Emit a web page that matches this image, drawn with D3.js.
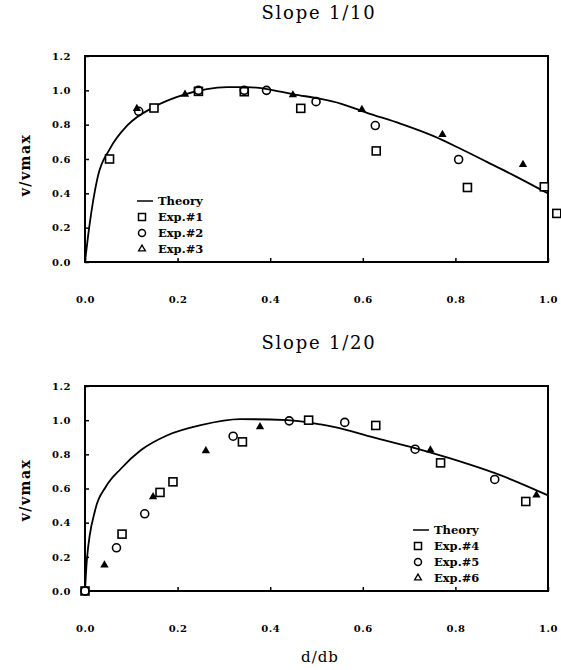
<!DOCTYPE html>
<html>
<head>
<meta charset="utf-8">
<script src="https://cdn.jsdelivr.net/npm/d3@7"></script>
<style>
  body { margin: 0; background: #fff; }
  svg { display: block; }
</style>
</head>
<body>
<svg id="chart" width="561" height="670"></svg>
<script>
// slope 1/10 series
var theory10X = [0, 0.009, 0.027, 0.054, 0.092, 0.149, 0.214, 0.307, 0.35, 0.408, 0.451, 0.509, 0.552, 0.609, 0.681, 0.753, 0.81, 0.868, 0.925, 1.0];
var theory10Y = [0, 0.2, 0.49, 0.66, 0.797, 0.903, 0.975, 1.019, 1.019, 1.0, 0.977, 0.95, 0.923, 0.869, 0.806, 0.733, 0.661, 0.583, 0.506, 0.399];
var exp1X = [0.053, 0.149, 0.245, 0.344, 0.466, 0.629, 0.826, 0.992, 1.019];
var exp1Y = [0.60, 0.897, 0.994, 0.992, 0.895, 0.647, 0.434, 0.438, 0.283];
var exp2X = [0.116, 0.245, 0.344, 0.392, 0.499, 0.627, 0.807];
var exp2Y = [0.878, 1.0, 1.0, 1.0, 0.934, 0.795, 0.597];
var exp3X = [0.112, 0.216, 0.449, 0.598, 0.772, 0.946];
var exp3Y = [0.894, 0.977, 0.973, 0.888, 0.742, 0.568];

// slope 1/20 series
var theory20X = [0, 0.004, 0.022, 0.045, 0.078, 0.121, 0.178, 0.25, 0.336, 0.437, 0.509, 0.537, 0.623, 0.703, 0.789, 0.897, 1.0];
var theory20Y = [0, 0.18, 0.474, 0.61, 0.717, 0.825, 0.912, 0.971, 1.006, 1.0, 0.975, 0.961, 0.899, 0.844, 0.776, 0.678, 0.56];
var exp4X = [0, 0.08, 0.162, 0.19, 0.34, 0.483, 0.628, 0.768, 0.952];
var exp4Y = [0, 0.333, 0.577, 0.639, 0.873, 1.0, 0.969, 0.75, 0.524];
var exp5X = [0, 0.068, 0.129, 0.32, 0.441, 0.561, 0.713, 0.885];
var exp5Y = [0, 0.253, 0.452, 0.906, 0.996, 0.987, 0.83, 0.653];
var exp6X = [0.042, 0.147, 0.261, 0.378, 0.746, 0.975];
var exp6Y = [0.152, 0.551, 0.82, 0.961, 0.825, 0.561];

var xTicks = [0, 0.2, 0.4, 0.6, 0.8, 1.0];
var yTicks = [0, 0.2, 0.4, 0.6, 0.8, 1.0, 1.2];

var svg = d3.select("#chart");
var serif = "'DejaVu Serif', serif";

function zip(xs, ys) {
    return xs.map(function(x, i) { return [x, ys[i]]; });
}

function panel(opts) {
    var x = d3.scaleLinear().domain([0, 1]).range([85, 548]);
    var y = d3.scaleLinear().domain([0, 1.2]).range([opts.bottom, opts.top]);
    var g = svg.append("g");

    // title
    g.append("text")
        .attr("x", 319).attr("y", opts.top - 37)
        .attr("text-anchor", "middle")
        .style("font-family", serif).style("font-size", "18px")
        .style("letter-spacing", "1.8px")
        .text(opts.title);

    // frame
    g.append("rect")
        .attr("x", x(0)).attr("y", y(1.2))
        .attr("width", x(1) - x(0)).attr("height", y(0) - y(1.2))
        .attr("fill", "none").attr("stroke", "#000").attr("stroke-width", 2);

    // axes with inward ticks
    var yAxis = d3.axisLeft(y).tickValues(yTicks).tickFormat(d3.format(".1f"))
        .tickSizeInner(-4).tickSizeOuter(0).tickPadding(14);
    var ya = g.append("g").attr("transform", "translate(" + x(0) + ",0)").call(yAxis);
    var xAxis = d3.axisBottom(x).tickValues(xTicks).tickFormat(d3.format(".1f"))
        .tickSizeInner(-4).tickSizeOuter(0).tickPadding(34);
    var xa = g.append("g").attr("transform", "translate(0," + y(0) + ")").call(xAxis);
    [ya, xa].forEach(function(a) {
        a.select(".domain").remove();
        a.selectAll("line").attr("stroke", "#000").attr("stroke-width", 1.5);
        a.selectAll("text")
            .style("font-family", serif).style("font-size", "10px")
            .style("font-weight", "bold").style("letter-spacing", "0.5px")
            .attr("fill", "#000");
    });

    // y label
    g.append("text")
        .attr("transform", "translate(30," + opts.labelY + ") rotate(-90)")
        .attr("text-anchor", "middle")
        .style("font-family", serif).style("font-size", "14px")
        .style("font-weight", "bold").style("letter-spacing", "1.5px")
        .text("v/vmax");

    // theory curve
    var line = d3.line()
        .x(function(d) { return x(d[0]); })
        .y(function(d) { return y(d[1]); })
        .curve(d3.curveMonotoneX);
    g.append("path")
        .datum(zip(opts.theoryX, opts.theoryY))
        .attr("d", line)
        .attr("fill", "none").attr("stroke", "#000").attr("stroke-width", 1.8);

    // markers
    g.selectAll(".sq").data(zip(opts.sqX, opts.sqY)).join("rect")
        .attr("x", function(d) { return x(d[0]) - 4; })
        .attr("y", function(d) { return y(d[1]) - 4; })
        .attr("width", 8).attr("height", 8)
        .attr("fill", "#fff").attr("stroke", "#000").attr("stroke-width", 1.6);
    g.selectAll(".ci").data(zip(opts.ciX, opts.ciY)).join("circle")
        .attr("cx", function(d) { return x(d[0]); })
        .attr("cy", function(d) { return y(d[1]); })
        .attr("r", 4)
        .attr("fill", "none").attr("stroke", "#000").attr("stroke-width", 1.6);
    var tri = d3.symbol().type(d3.symbolTriangle).size(30);
    g.selectAll(".tr").data(zip(opts.trX, opts.trY)).join("path")
        .attr("d", tri)
        .attr("transform", function(d) { return "translate(" + x(d[0]) + "," + y(d[1]) + ")"; })
        .attr("fill", "#000");

    // legend
    var lx = opts.legendX, ly = opts.legendY;
    var lg = g.append("g").style("font-family", serif).style("font-size", "11.5px")
        .style("font-weight", "bold");
    lg.append("line").attr("x1", lx - 5).attr("x2", lx + 11).attr("y1", ly).attr("y2", ly)
        .attr("stroke", "#000").attr("stroke-width", 1.5);
    lg.append("rect").attr("x", lx - 3.5).attr("y", ly + 16 - 3.5).attr("width", 7).attr("height", 7)
        .attr("fill", "none").attr("stroke", "#000").attr("stroke-width", 1.5);
    lg.append("circle").attr("cx", lx).attr("cy", ly + 32).attr("r", 3.5)
        .attr("fill", "none").attr("stroke", "#000").attr("stroke-width", 1.5);
    lg.append("path").attr("d", d3.symbol().type(d3.symbolTriangle).size(20))
        .attr("transform", "translate(" + lx + "," + (ly + 48) + ")")
        .attr("fill", "none").attr("stroke", "#000").attr("stroke-width", 1.3);
    opts.names.forEach(function(n, i) {
        lg.append("text").attr("x", lx + 16).attr("y", ly + 16 * i + 4).text(n);
    });
}

panel({
    title: "Slope 1/10", top: 56, bottom: 262, labelY: 165,
    theoryX: theory10X, theoryY: theory10Y,
    sqX: exp1X, sqY: exp1Y, ciX: exp2X, ciY: exp2Y, trX: exp3X, trY: exp3Y,
    legendX: 142, legendY: 201,
    names: ["Theory", "Exp.#1", "Exp.#2", "Exp.#3"]
});

panel({
    title: "Slope 1/20", top: 386, bottom: 591, labelY: 490,
    theoryX: theory20X, theoryY: theory20Y,
    sqX: exp4X, sqY: exp4Y, ciX: exp5X, ciY: exp5Y, trX: exp6X, trY: exp6Y,
    legendX: 418, legendY: 530,
    names: ["Theory", "Exp.#4", "Exp.#5", "Exp.#6"]
});

// shared x label
svg.append("text")
    .attr("x", 320).attr("y", 662)
    .attr("text-anchor", "middle")
    .style("font-family", serif).style("font-size", "15px")
    .style("letter-spacing", "1px")
    .text("d/db");
</script>
</body>
</html>
